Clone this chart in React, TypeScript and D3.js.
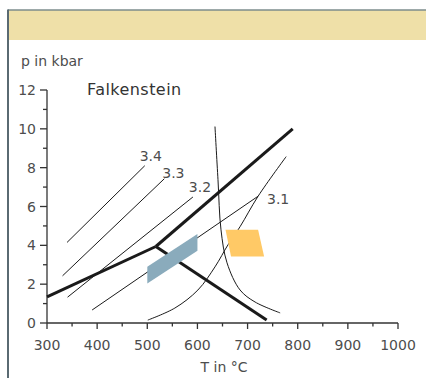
import React from "react";
import * as d3 from "d3";

// Temperature (°C) / pressure (kbar) reaction lines for the Falkenstein diagram
const reactionLine34: [number, number][] = [[340, 4.15], [495, 8.1]];
const reactionLine33: [number, number][] = [[331, 2.43], [534, 7.43]];
const reactionLine32: [number, number][] = [[341, 1.33], [591, 6.49]];
const reactionLine31Low: [number, number][] = [[390, 0.67], [721, 6.53]];
const reactionCurve31: [number, number][] = [
  [501, 0.15], [555, 0.77], [601, 1.7], [635, 2.89], [661, 4.03],
  [685, 4.96], [721, 6.53], [777, 8.57],
];
const steepCurve: [number, number][] = [
  [635, 10.12], [641, 7.38], [647, 4.8], [659, 3.1], [685, 1.7],
  [715, 1.08], [765, 0.52],
];
const thickLeft: [number, number][] = [[300, 1.34], [517, 3.94]];
const thickUp: [number, number][] = [[517, 3.94], [790, 10]];
const thickDown: [number, number][] = [[517, 3.94], [738, 0.15]];
const blueField: [number, number][] = [[500, 2.03], [500, 2.9], [600, 4.59], [600, 3.72]];
const yellowField: [number, number][] = [[656, 4.8], [721, 4.8], [733, 3.42], [667, 3.42]];

const lineLabels = [
  { text: "3.4", t: 507, p: 8.34 },
  { text: "3.3", t: 552, p: 7.47 },
  { text: "3.2", t: 605, p: 6.75 },
  { text: "3.1", t: 761, p: 6.13 },
];

const xTicks = [300, 400, 500, 600, 700, 800, 900, 1000];
const xMinor = [350, 450, 550, 650, 750, 850, 950];
const yTicks = [0, 2, 4, 6, 8, 10, 12];
const yMinor = [1, 3, 5, 7, 9, 11];

const W = 426;
const H = 378;
const FONT = "'DejaVu Sans', sans-serif";
const TEXT = "#4d4d4d";
const AXIS = "#333";

export default function App() {
  const x = d3.scaleLinear().domain([300, 1000]).range([47, 398]);
  const y = d3.scaleLinear().domain([0, 12]).range([323, 90]);
  const straight = d3.line<[number, number]>().x((d) => x(d[0])).y((d) => y(d[1]));
  const smooth = d3
    .line<[number, number]>()
    .x((d) => x(d[0]))
    .y((d) => y(d[1]))
    .curve(d3.curveCatmullRom.alpha(0.5));
  const poly = (pts: [number, number][]) =>
    pts.map((d) => `${x(d[0])},${y(d[1])}`).join(" ");

  return (
    <svg
      width={W}
      height={H}
      style={{ position: "absolute", left: 0, top: 0, background: "#fff" }}
      fontFamily={FONT}
    >
      {/* panel frame and header band */}
      <rect x={8} y={10} width={W - 8} height={30} fill="#efe0a8" />
      <line x1={8} y1={10} x2={W} y2={10} stroke="#7d8c8c" strokeWidth={1.5} />
      <line x1={8} y1={9.5} x2={8} y2={H} stroke="#5a6a72" strokeWidth={2} />

      {/* axis titles */}
      <text x={21} y={66} fontSize={14} fill={TEXT}>p in kbar</text>
      <text x={224} y={372} fontSize={14} fill={TEXT} textAnchor="middle">T in °C</text>
      <text x={87} y={95} fontSize={16} fill="#333" letterSpacing={0.45}>Falkenstein</text>

      {/* y axis */}
      <line x1={x(300)} y1={y(0)} x2={x(300)} y2={y(12)} stroke={AXIS} strokeWidth={1.3} />
      {yTicks.map((v) => (
        <g key={`y${v}`}>
          <line x1={x(300) - 7} x2={x(300)} y1={y(v)} y2={y(v)} stroke={AXIS} strokeWidth={1.3} />
          <text x={36} y={y(v)} dy="0.36em" fontSize={14} fill={TEXT} textAnchor="end">{v}</text>
        </g>
      ))}
      {yMinor.map((v) => (
        <line key={`ym${v}`} x1={x(300) - 4} x2={x(300)} y1={y(v)} y2={y(v)} stroke={AXIS} strokeWidth={1.3} />
      ))}

      {/* x axis */}
      <line x1={x(300)} y1={y(0)} x2={x(1000)} y2={y(0)} stroke={AXIS} strokeWidth={1.3} />
      {xTicks.map((v) => (
        <g key={`x${v}`}>
          <line x1={x(v)} x2={x(v)} y1={y(0)} y2={y(0) + 6} stroke={AXIS} strokeWidth={1.3} />
          <text x={x(v)} y={350} fontSize={14} fill={TEXT} textAnchor="middle">{v}</text>
        </g>
      ))}
      {xMinor.map((v) => (
        <line key={`xm${v}`} x1={x(v)} x2={x(v)} y1={y(0)} y2={y(0) + 3.5} stroke={AXIS} strokeWidth={1.3} />
      ))}

      {/* thin reaction lines */}
      <g fill="none" stroke="#1a1a1a" strokeWidth={1}>
        <path d={straight(reactionLine34)!} />
        <path d={straight(reactionLine33)!} />
        <path d={straight(reactionLine32)!} />
        <path d={straight(reactionLine31Low)!} />
        <path d={smooth(reactionCurve31)!} />
        <path d={smooth(steepCurve)!} />
      </g>

      {/* thick univariant lines */}
      <g fill="none" stroke="#1a1a1a" strokeWidth={3} strokeLinecap="butt">
        <path d={straight(thickLeft)!} />
        <path d={straight(thickUp)!} />
        <path d={straight(thickDown)!} />
      </g>

      {/* P-T fields */}
      <polygon points={poly(blueField)} fill="#8aabbc" />
      <polygon points={poly(yellowField)} fill="#ffc966" />

      {lineLabels.map((l) => (
        <text key={l.text} x={x(l.t)} y={y(l.p)} fontSize={14} fill={TEXT} textAnchor="middle">
          {l.text}
        </text>
      ))}
    </svg>
  );
}
